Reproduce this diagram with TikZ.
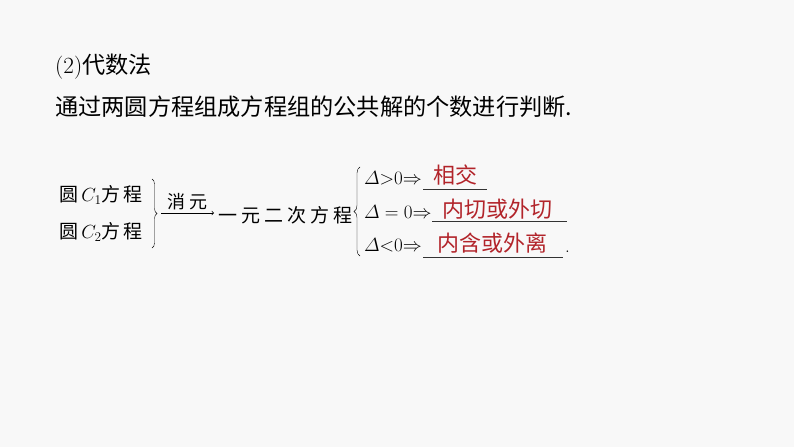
\RequirePackage{fix-cm}
\documentclass[tikz,border=0pt]{standalone}
\usepackage{fontspec}
\usepackage{amsmath}
\usetikzlibrary{decorations.pathreplacing}
\newfontfamily\cjk{Noto Sans CJK SC}
\newfontfamily\cjkwide[LetterSpace=21]{Noto Sans CJK SC}
\definecolor{answer}{RGB}{178,36,42}
\definecolor{paper}{RGB}{248,248,248}
\tikzset{
  heading/.style={anchor=west, font=\fontsize{23.2}{28}\selectfont},
  eqtext/.style={anchor=west, font=\fontsize{19}{21}\selectfont},
  reply/.style={text=answer, font=\fontsize{22}{24}\selectfont\cjk},
  blank/.style={line width=0.9pt, black!80}
}
\begin{document}
\begin{tikzpicture}[x=1pt, y=-1pt, every node/.style={inner sep=0pt}]
  \fill[paper] (0,0) rectangle (794,447);
  \node[heading] (title) at (55,67) {(2)\cjk 代数法};
  \node[heading] (intro) at (55,107) {\cjk 通过两圆方程组成方程组的公共解的个数进行判断.};
  % the two circles
  \node[eqtext] (circa) at (59,195) {\cjk 圆\,$C_{\scriptstyle 1}$方\,程};
  \node[eqtext] (circb) at (59,232) {\cjk 圆\,$C_{\scriptstyle 2}$方\,程};
  \draw[decorate, decoration={brace, amplitude=5pt}] (152,179) -- (152,248);
  \coordinate (tip) at (161,213);
  \node[eqtext] (quad) at (218,215) {\cjkwide 一元二次方程};
  \draw[->, line width=0.7pt] (tip) -- ([xshift=-4pt]quad.west |- tip) node[midway, above=3pt, font=\fontsize{18}{20}\selectfont\cjkwide] (elim) {消元};
  \draw[decorate, decoration={brace, amplitude=6pt}] (360,256) -- (360,167);
  % three cases
  \node[eqtext] (gt) at (364,178) {$\varDelta{>}0{\Rightarrow}$};
  \node[eqtext] (eq) at (364,212) {$\varDelta\;{=}\;0{\Rightarrow}$};
  \node[eqtext] (lt) at (364,245) {$\varDelta{<}0{\Rightarrow}$};
  \draw[blank] (423,189) -- (487,189);
  \draw[blank] (432,221) -- (567,221);
  \draw[blank] (423,257) -- (563,257);
  \node[reply] (cross) at (455,175) {相交};
  \node[reply] (touch) at (497,209) {内切或外切};
  \node[reply] (apart) at (492,243) {内含或外离};
  \node[eqtext] (stop) at (565,252) {.};
\end{tikzpicture}
\end{document}
